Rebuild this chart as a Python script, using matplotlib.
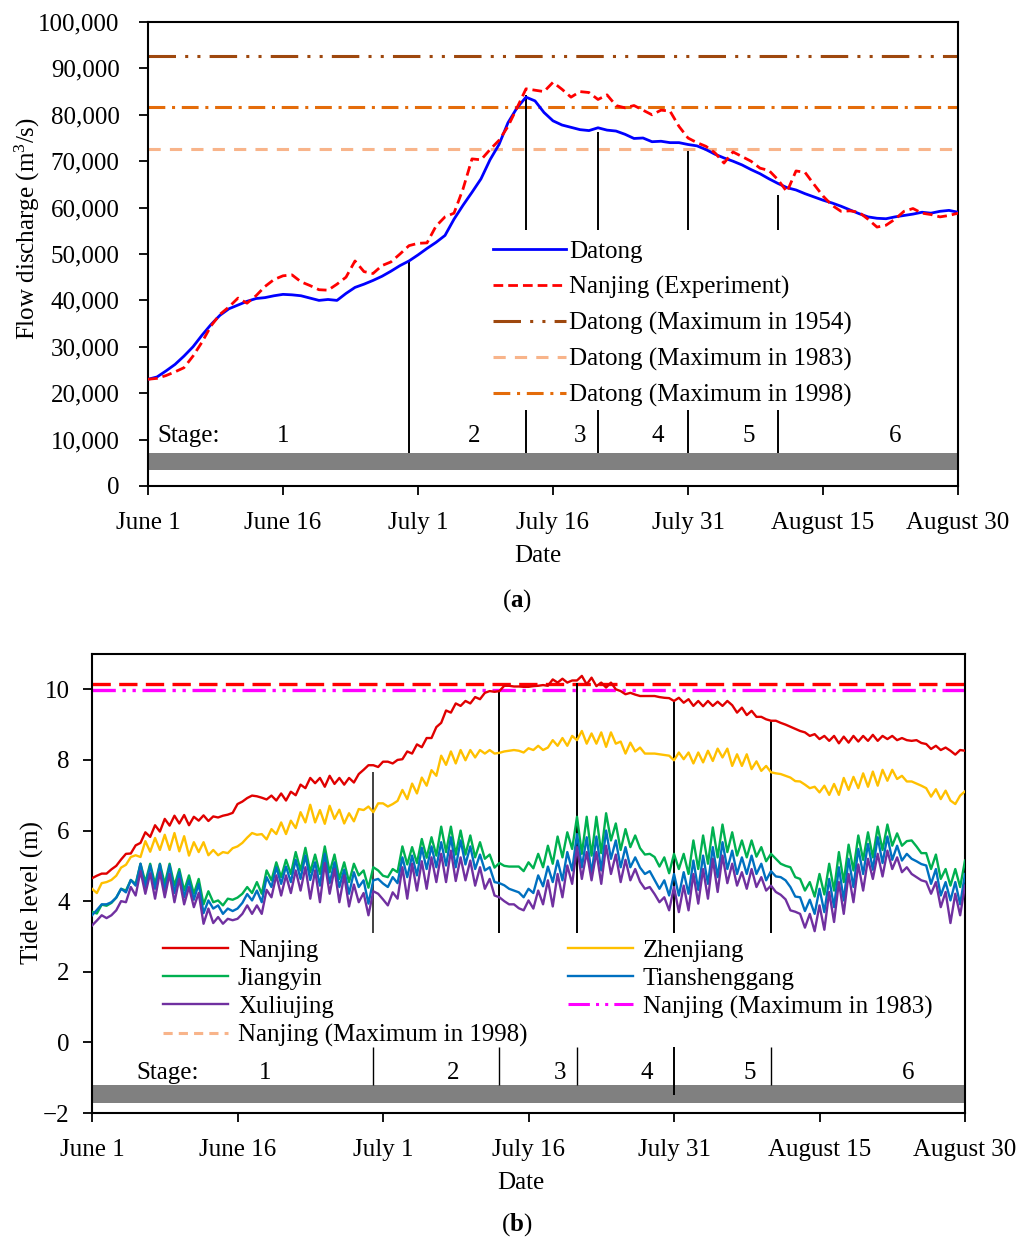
import numpy as np
import matplotlib
matplotlib.use("Agg")
import matplotlib.pyplot as plt
from matplotlib.lines import Line2D
from matplotlib.ticker import FuncFormatter

plt.rcParams['font.family'] = ['Liberation Serif', 'DejaVu Serif']
plt.rcParams['mathtext.fontset'] = 'custom'
plt.rcParams['mathtext.rm'] = 'Liberation Serif'
plt.rcParams['mathtext.bf'] = 'Liberation Serif:bold'
plt.rcParams['mathtext.it'] = 'Liberation Serif:italic'
plt.rcParams['axes.unicode_minus'] = True

FS = 18

# ---------------- data ----------------
date_ticks = [0, 15, 30, 45, 60, 75, 90]
date_labels = ["June 1", "June 16", "July 1", "July 16", "July 31", "August 15", "August 30"]
stage_bounds = [29, 42, 50, 60, 70]
stage_names = ["1", "2", "3", "4", "5", "6"]

# (a) daily flow discharge, June 1 .. August 30 (m3/s)
datong = [23000, 23500, 24800, 26200, 28000, 30000, 32500, 34800, 36800, 38200,
          39000, 39800, 40400, 40600, 41000, 41300, 41200, 41000, 40500, 40000,
          40200, 40000, 41500, 42800, 43500, 44300, 45200, 46300, 47500, 48500,
          49800, 51200, 52500, 54000, 57500, 60500, 63300, 66200, 70300, 73600,
          78300, 81500, 83800, 83000, 80500, 78700, 77800, 77300, 76800, 76600,
          77200, 76700, 76500, 75800, 74900, 75000, 74200, 74300, 74000, 74000,
          73600, 73300, 72500, 71500, 70700, 70000, 69200, 68200, 67300, 66200,
          65200, 64300, 63800, 63000, 62300, 61600, 61000, 60300, 59500, 58700,
          58000, 57700, 57600, 58000, 58300, 58600, 59000, 58800, 59200, 59400,
          59000]
nanjing_exp = [23000, 23200, 23800, 24600, 25500, 28000, 31000, 34500, 37000, 38600,
               40500, 39400, 41000, 43000, 44500, 45300, 45500, 44000, 43200, 42300,
               42200, 43500, 45000, 48500, 46200, 45800, 47500, 48300, 50000, 51800,
               52300, 52400, 56000, 58000, 58800, 64000, 70500, 70300, 72500, 74500,
               77500, 81500, 85600, 85300, 85000, 87000, 85500, 83800, 85000, 84800,
               83300, 84300, 82000, 81500, 82000, 81000, 80000, 81000, 80800, 77500,
               75000, 74000, 73200, 71800, 69600, 72000, 71000, 70000, 68500, 68000,
               66000, 63400, 67900, 67600, 65000, 62500, 60500, 59200, 59300, 59000,
               57500, 55800, 56200, 57500, 59200, 59800, 58800, 58500, 58000, 58300,
               58800]
datong_max_1954 = 92600
datong_max_1983 = 72600
datong_max_1998 = 81700

# (b) tide level, half-day samples June 1 .. August 30 (m)
tide_nanjing = [
    4.65, 4.72, 4.78, 4.78, 4.90, 5.00, 5.18, 5.34, 5.35, 5.58,
    5.65, 5.95, 5.82, 6.15, 5.97, 6.33, 6.14, 6.42, 6.20, 6.44,
    6.15, 6.39, 6.28, 6.43, 6.27, 6.40, 6.37, 6.42, 6.45, 6.50,
    6.75, 6.82, 6.92, 6.99, 6.97, 6.93, 6.88, 6.99, 6.85, 7.05,
    6.85, 7.10, 7.00, 7.30, 7.20, 7.49, 7.34, 7.49, 7.24, 7.55,
    7.32, 7.49, 7.30, 7.49, 7.36, 7.60, 7.72, 7.85, 7.85, 7.80,
    7.95, 7.95, 7.90, 8.00, 8.02, 8.24, 8.18, 8.44, 8.36, 8.62,
    8.62, 8.93, 9.05, 9.40, 9.34, 9.60, 9.53, 9.67, 9.60, 9.78,
    9.72, 9.90, 9.95, 9.93, 9.95, 10.10, 10.10, 10.08, 10.08, 10.07,
    10.07, 10.09, 10.10, 10.12, 10.10, 10.28, 10.19, 10.30, 10.19, 10.25,
    10.25, 10.38, 10.14, 10.33, 10.09, 10.19, 10.05, 10.19, 10.00, 9.95,
    9.86, 9.90, 9.85, 9.81, 9.81, 9.81, 9.81, 9.78, 9.76, 9.75,
    9.67, 9.76, 9.62, 9.72, 9.53, 9.67, 9.52, 9.67, 9.53, 9.65,
    9.53, 9.67, 9.55, 9.34, 9.48, 9.27, 9.39, 9.22, 9.22, 9.15,
    9.11, 9.11, 9.05, 9.00, 8.94, 8.88, 8.82, 8.78, 8.68, 8.73,
    8.59, 8.68, 8.54, 8.68, 8.47, 8.66, 8.49, 8.68, 8.52, 8.68,
    8.54, 8.71, 8.54, 8.68, 8.59, 8.68, 8.56, 8.62, 8.56, 8.54,
    8.56, 8.48, 8.45, 8.31, 8.40, 8.28, 8.35, 8.26, 8.15, 8.28,
    8.26]
tide_zhenjiang = [
    4.35, 4.23, 4.51, 4.54, 4.60, 4.72, 4.95, 5.03, 5.25, 5.30,
    5.25, 5.70, 5.40, 5.79, 5.45, 5.88, 5.45, 5.93, 5.41, 5.84,
    5.29, 5.67, 5.39, 5.67, 5.30, 5.45, 5.30, 5.39, 5.36, 5.50,
    5.55, 5.65, 5.80, 5.93, 5.88, 5.90, 5.75, 6.04, 5.90, 6.23,
    5.90, 6.28, 6.07, 6.52, 6.23, 6.73, 6.23, 6.58, 6.19, 6.70,
    6.33, 6.59, 6.20, 6.49, 6.26, 6.61, 6.58, 6.68, 6.52, 6.77,
    6.77, 6.68, 6.75, 6.84, 7.15, 6.89, 7.33, 7.05, 7.50, 7.27,
    7.71, 7.55, 8.12, 7.86, 8.24, 7.90, 8.28, 7.99, 8.28, 8.07,
    8.28, 8.18, 8.28, 8.18, 8.20, 8.24, 8.26, 8.28, 8.26, 8.21,
    8.33, 8.28, 8.40, 8.28, 8.35, 8.56, 8.40, 8.62, 8.40, 8.68,
    8.56, 8.82, 8.46, 8.75, 8.46, 8.78, 8.37, 8.78, 8.46, 8.52,
    8.18, 8.49, 8.24, 8.35, 8.18, 8.18, 8.18, 8.16, 8.14, 8.12,
    7.99, 8.21, 8.02, 8.21, 7.90, 8.21, 7.93, 8.26, 7.97, 8.32,
    8.07, 8.32, 7.83, 8.16, 7.83, 8.16, 7.74, 7.96, 7.69, 7.83,
    7.65, 7.62, 7.60, 7.55, 7.50, 7.40, 7.39, 7.30, 7.20, 7.24,
    7.08, 7.27, 7.01, 7.32, 7.01, 7.49, 7.15, 7.52, 7.20, 7.62,
    7.24, 7.67, 7.27, 7.72, 7.41, 7.72, 7.46, 7.55, 7.39, 7.39,
    7.33, 7.27, 7.20, 6.96, 7.17, 6.89, 7.13, 6.85, 6.75, 6.99,
    7.11]
tide_jiangyin = [
    3.70, 3.65, 3.90, 3.87, 3.95, 4.10, 4.35, 4.30, 4.60, 4.49,
    5.06, 4.54, 5.06, 4.49, 5.06, 4.49, 5.06, 4.44, 4.91, 4.30,
    4.73, 4.21, 4.63, 3.91, 4.28, 3.97, 4.02, 3.88, 4.07, 4.04,
    4.10, 4.21, 4.40, 4.23, 4.54, 4.21, 4.87, 4.59, 5.10, 4.68,
    5.17, 4.77, 5.39, 4.87, 5.51, 4.82, 5.32, 4.77, 5.55, 4.82,
    5.32, 4.63, 5.10, 4.54, 5.06, 4.73, 4.87, 4.38, 4.96, 4.87,
    4.72, 4.68, 4.91, 4.82, 5.55, 5.04, 5.53, 5.08, 5.76, 5.23,
    5.81, 5.29, 6.11, 5.39, 6.11, 5.32, 6.00, 5.32, 5.86, 5.24,
    5.67, 5.20, 5.32, 4.95, 5.08, 5.00, 4.98, 4.98, 4.98, 4.85,
    5.10, 4.93, 5.34, 4.96, 5.57, 5.06, 5.83, 5.24, 5.95, 5.48,
    6.39, 5.34, 6.39, 5.29, 6.39, 5.36, 6.49, 5.72, 6.20, 5.45,
    6.04, 5.53, 5.86, 5.50, 5.32, 5.34, 5.25, 4.98, 5.24, 4.79,
    5.34, 4.91, 5.34, 4.77, 5.72, 4.91, 5.86, 5.06, 6.09, 5.24,
    6.17, 5.39, 5.95, 5.29, 5.72, 5.24, 5.72, 5.26, 5.53, 5.13,
    5.34, 5.20, 5.06, 5.00, 4.96, 4.68, 4.63, 4.30, 4.54, 4.13,
    4.77, 4.19, 5.06, 4.30, 5.39, 4.54, 5.60, 4.87, 5.86, 5.17,
    5.95, 5.24, 6.11, 5.45, 6.17, 5.57, 5.92, 5.57, 5.70, 5.72,
    5.55, 5.36, 5.36, 4.91, 5.32, 4.63, 4.91, 4.44, 4.91, 4.40,
    5.15]
tide_tianshenggang = [
    3.60, 3.75, 3.91, 3.91, 3.97, 4.10, 4.35, 4.25, 4.60, 4.44,
    5.06, 4.40, 5.01, 4.35, 5.04, 4.28, 5.01, 4.23, 4.82, 4.11,
    4.59, 4.04, 4.49, 3.66, 4.02, 3.79, 3.88, 3.64, 3.79, 3.72,
    3.79, 3.95, 4.20, 4.02, 4.30, 3.97, 4.68, 4.40, 4.96, 4.49,
    4.98, 4.54, 5.17, 4.63, 5.29, 4.60, 5.10, 4.44, 5.34, 4.51,
    5.10, 4.40, 4.89, 4.21, 4.82, 4.40, 4.59, 3.93, 4.59, 4.63,
    4.50, 4.40, 4.68, 4.51, 5.24, 4.68, 5.29, 4.73, 5.51, 4.91,
    5.55, 4.96, 5.67, 5.01, 5.81, 4.96, 5.72, 5.04, 5.55, 4.91,
    5.32, 4.87, 4.96, 4.54, 4.51, 4.45, 4.35, 4.30, 4.25, 4.11,
    4.35, 4.23, 4.73, 4.42, 4.98, 4.54, 5.15, 4.59, 5.39, 4.87,
    5.90, 4.96, 5.81, 4.77, 5.83, 4.87, 6.00, 5.20, 5.72, 4.96,
    5.53, 4.96, 5.24, 4.95, 4.77, 4.85, 4.60, 4.35, 4.59, 4.16,
    4.77, 4.16, 4.82, 4.21, 5.15, 4.32, 5.29, 4.49, 5.53, 4.68,
    5.67, 4.91, 5.43, 4.77, 5.24, 4.77, 5.29, 4.77, 5.06, 4.59,
    4.85, 4.70, 4.68, 4.59, 4.40, 4.13, 4.11, 3.72, 4.04, 3.64,
    4.35, 3.69, 4.63, 3.83, 4.96, 4.02, 5.20, 4.40, 5.48, 4.77,
    5.62, 4.89, 5.81, 5.08, 5.83, 5.17, 5.57, 5.15, 5.34, 5.20,
    5.13, 5.05, 5.01, 4.49, 4.91, 4.16, 4.54, 4.02, 4.54, 3.91,
    4.77]
tide_xuliujing = [
    3.31, 3.45, 3.60, 3.52, 3.60, 3.74, 4.00, 3.97, 4.40, 4.16,
    4.85, 4.21, 4.79, 4.07, 4.82, 4.11, 4.77, 3.97, 4.63, 3.91,
    4.40, 3.83, 4.23, 3.36, 3.79, 3.38, 3.55, 3.36, 3.50, 3.46,
    3.50, 3.64, 3.88, 3.64, 3.88, 3.64, 4.32, 4.11, 4.73, 4.16,
    4.73, 4.23, 4.87, 4.30, 4.96, 4.07, 4.87, 3.97, 5.08, 4.21,
    4.91, 3.97, 4.73, 3.85, 4.47, 3.97, 4.23, 3.60, 4.28, 4.21,
    4.05, 3.88, 4.25, 4.07, 4.96, 4.07, 5.06, 4.30, 5.13, 4.35,
    5.24, 4.54, 5.34, 4.54, 5.43, 4.57, 5.24, 4.59, 5.15, 4.44,
    4.96, 4.35, 4.63, 4.16, 4.11, 4.00, 3.91, 3.91, 3.80, 3.74,
    4.02, 3.79, 4.30, 3.91, 4.59, 3.85, 4.77, 4.11, 5.01, 4.49,
    5.53, 4.63, 5.39, 4.59, 5.39, 4.49, 5.57, 4.77, 5.32, 4.54,
    5.17, 4.59, 4.91, 4.55, 4.35, 4.40, 4.20, 3.97, 4.11, 3.74,
    4.40, 3.69, 4.44, 3.74, 4.77, 3.93, 4.91, 4.07, 5.20, 4.26,
    5.29, 4.51, 5.06, 4.44, 4.82, 4.35, 4.91, 4.40, 4.68, 4.30,
    4.44, 4.26, 4.18, 4.05, 3.74, 3.70, 3.64, 3.25, 3.64, 3.15,
    3.88, 3.19, 4.26, 3.41, 4.54, 3.64, 4.77, 3.97, 5.04, 4.30,
    5.20, 4.63, 5.34, 4.70, 5.43, 4.91, 5.24, 4.82, 4.96, 4.77,
    4.68, 4.59, 4.55, 4.21, 4.54, 3.83, 4.26, 3.38, 4.21, 3.60,
    4.44]
nanjing_max_1983 = 9.99
nanjing_max_1998 = 10.14

# ---------------- figure ----------------
W, H = 1029, 1239
fig = plt.figure(figsize=(W / 100, H / 100), dpi=100)
ax1 = fig.add_axes([148 / W, 1 - 486 / H, 810 / W, 464 / H])
ax2 = fig.add_axes([92 / W, 1 - 1113 / H, 873 / W, 459 / H])

for ax in (ax1, ax2):
    for s in ax.spines.values():
        s.set_linewidth(1.5)
    ax.tick_params(direction='out', length=6.5, width=1.3, labelsize=FS)
    ax.set_xlim(0, 90)
    ax.set_xticks(date_ticks)
    ax.set_xticklabels(date_labels)
    ax.tick_params(axis='x', pad=12.3)

# ---------- panel (a) ----------
c1954, c1983, c1998 = '#9E480E', '#F8B48A', '#E46C0A'
ax1.axhline(datong_max_1954, color=c1954, lw=2.2, ls=(0, (9, 3, 1, 3, 1, 3)), zorder=2)
ax1.axhline(datong_max_1998, color=c1998, lw=2.2, ls=(0, (5.5, 2.2, 1, 2.2)), zorder=2)
ax1.axhline(datong_max_1983, color=c1983, lw=2.2, ls=(0, (4, 3)), zorder=2)
days = np.arange(len(datong))
ax1.plot(days, datong, color='#0000FF', lw=2.0, zorder=4)
ax1.plot(np.arange(len(nanjing_exp)), nanjing_exp, color='#FF0000', lw=2.0,
         ls=(0, (3.5, 1.8)), zorder=5)

ax1.axhspan(3400, 7100, color='#808080', lw=0, zorder=1)
ax1.vlines(stage_bounds[0], 7100, datong[stage_bounds[0]], color='k', lw=1.4, zorder=3)
ax1.vlines(stage_bounds[1:], 7100, 16400, color='k', lw=1.4, zorder=3)
ax1.vlines(stage_bounds[1:], 55200, [84300, 76400, 72300, 62700], color='k', lw=1.4, zorder=3)
ax1.text(1.0, 10800, "Stage:", fontsize=FS, ha='left', va='center')
for xpos, name in zip([15, 36.2, 48, 56.6, 66.7, 83], stage_names):
    ax1.text(xpos, 10800, name, fontsize=FS, ha='center', va='center')

ax1.set_ylim(0, 100000)
ax1.set_yticks(np.arange(0, 100001, 10000))
ax1.yaxis.set_major_formatter(FuncFormatter(lambda v, p: f"{int(v):,}"))
ax1.tick_params(axis='y', pad=14)
ax1.set_ylabel("Flow discharge (m$^3$/s)", fontsize=FS)
ax1.yaxis.set_label_coords(-0.131, 0.554)
ax1.set_xlabel("Date", fontsize=FS)
ax1.xaxis.set_label_coords(0.481, -0.128)

h1 = [Line2D([], [], color='#0000FF', lw=2.0),
      Line2D([], [], color='#FF0000', lw=2.0, ls=(0, (3.5, 1.8))),
      Line2D([], [], color=c1954, lw=2.2, ls=(0, (9, 3, 1, 3, 1, 3))),
      Line2D([], [], color=c1983, lw=2.2, ls=(0, (4, 3))),
      Line2D([], [], color=c1998, lw=2.2, ls=(0, (5.5, 2.2, 1, 2.2)))]
l1 = ["Datong", "Nanjing (Experiment)", "Datong (Maximum in 1954)",
      "Datong (Maximum in 1983)", "Datong (Maximum in 1998)"]
ax1.legend(h1, l1, loc='upper left', bbox_to_anchor=(0.426, 0.53), frameon=False,
           fontsize=FS, handlelength=2.9, handletextpad=0.14, labelspacing=0.52,
           borderpad=0, borderaxespad=0)

# ---------- panel (b) ----------
t = np.arange(len(tide_nanjing)) * 0.5
col_nj, col_zj, col_jy, col_tsg, col_xlj = '#E00000', '#FFC000', '#00B050', '#0070C0', '#7030A0'
ax2.axhline(nanjing_max_1998, color='#FF0000', lw=2.4, ls=(0, (5.5, 2.5)), zorder=2)
ax2.axhline(nanjing_max_1983, color='#FF00FF', lw=2.4, ls=(0, (7, 2, 1, 2, 1, 2)), zorder=2)
ax2.plot(t, tide_nanjing, color=col_nj, lw=1.7, zorder=4)
ax2.plot(np.arange(len(tide_zhenjiang)) * 0.5, tide_zhenjiang, color=col_zj, lw=1.7, zorder=4)
ax2.plot(np.arange(len(tide_jiangyin)) * 0.5, tide_jiangyin, color=col_jy, lw=1.7, zorder=4)
ax2.plot(np.arange(len(tide_tianshenggang)) * 0.5, tide_tianshenggang, color=col_tsg, lw=1.7, zorder=4)
ax2.plot(np.arange(len(tide_xuliujing)) * 0.5, tide_xuliujing, color=col_xlj, lw=1.7, zorder=4)

ax2.axhspan(-1.71, -1.21, color='#808080', lw=0, zorder=1)
ax2.vlines(stage_bounds[0], 3.1, 7.67, color='#404040', lw=1.4, zorder=3)
ax2.vlines(stage_bounds[1:], 3.1, [9.95, 10.19, 9.7, 9.1], color='k', lw=1.4, zorder=3)
ax2.vlines([29, 42, 50, 70], -1.21, -0.13, color='k', lw=1.0, zorder=3)
ax2.vlines(60, -1.49, -0.13, color='k', lw=1.4, zorder=3)
ax2.text(4.6, -0.86, "Stage:", fontsize=FS, ha='left', va='center')
for xpos, name in zip([17.8, 37.2, 48.2, 57.2, 67.8, 84.1], stage_names):
    ax2.text(xpos, -0.86, name, fontsize=FS, ha='center', va='center')

ax2.set_ylim(-2, 11)
ax2.set_yticks(np.arange(-2, 11, 2))
ax2.tick_params(axis='y', pad=9.5)
ax2.set_ylabel("Tide level (m)", fontsize=FS)
ax2.yaxis.set_label_coords(-0.055, 0.481)
ax2.set_xlabel("Date", fontsize=FS)
ax2.xaxis.set_label_coords(0.491, -0.128)

mk = lambda c, ls='-', lw=1.7: Line2D([], [], color=c, lw=lw, ls=ls)
h2 = [mk(col_nj), mk(col_jy), mk(col_xlj), mk('#F8B48A', (0, (3, 2)), 2.2),
      mk(col_zj), mk(col_tsg), mk('#FF00FF', (0, (7, 2, 1, 2, 1, 2)), 2.2)]
l2 = ["Nanjing", "Jiangyin", "Xuliujing", "Nanjing (Maximum in 1998)",
      "Zhenjiang", "Tianshenggang", "Nanjing (Maximum in 1983)"]
ax2.legend(h2, l2, ncol=2, loc='upper left', bbox_to_anchor=(0.0813, 0.379), frameon=False,
           fontsize=FS, handlelength=2.6, handletextpad=0.4, labelspacing=0.23,
           columnspacing=1.62, borderpad=0, borderaxespad=0)

fig.text(517 / W, 1 - 601 / H, r"($\mathbf{a}$)", ha='center', va='center', fontsize=FS)
fig.text(517 / W, 1 - 1225 / H, r"($\mathbf{b}$)", ha='center', va='center', fontsize=FS)

fig.savefig("out.png", dpi=100)
